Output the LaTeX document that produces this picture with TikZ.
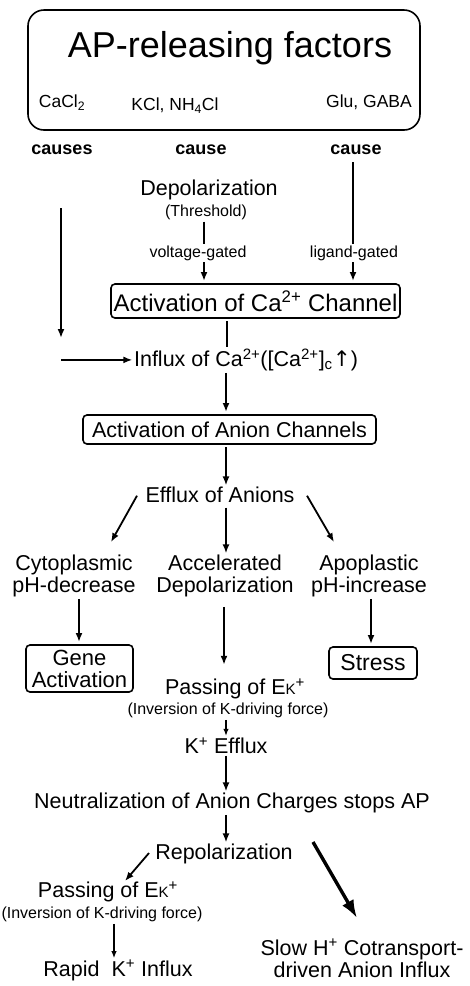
\documentclass[tikz,border=0pt]{standalone}
\usepackage{fontspec}
\setmainfont{Liberation Sans}
\newfontfamily\symfont{DejaVu Sans}
\usetikzlibrary{arrows.meta}

\begin{document}
\begin{tikzpicture}[x=1pt, y=-1pt]
	\tikzstyle{every node}=[inner sep=1.5pt, align=center, anchor=base, font=\fontsize{21.5}{22}\selectfont]
	\tikzstyle{small}=[font=\fontsize{16}{16}\selectfont]
	\tikzstyle{salt}=[font=\fontsize{17.5}{17.5}\selectfont]
	\tikzstyle{verb}=[font=\bfseries\fontsize{18}{18}\selectfont]
	\tikzstyle{box}=[draw, line width=1.6pt, rounded corners=4pt, anchor=center, outer sep=3pt, inner sep=2pt]
	\tikzstyle{arr}=[line width=1.8pt, -{Latex[length=9pt,width=7pt]}]
	\tikzstyle{tarr}=[line width=1.2pt, -{Latex[length=7pt,width=5.5pt]}]
	\tikzstyle{barr}=[line width=3.4pt, -{Latex[length=18pt,width=13pt]}]
	\tikzstyle{ln}=[line width=1.8pt]
	\useasboundingbox (0,0) rectangle (469,986);
	% factors
	\node[draw, line width=1.6pt, rounded corners=16pt, anchor=center, minimum width=392pt, minimum height=120pt] (F) at (224,70) {};
	\node[font=\fontsize{36}{36}\selectfont] (T) at (230,57) {AP-releasing factors};
	\node[salt] (CaCl) at (62,107.5) {CaCl\textsubscript{2}};
	\node[salt] (KCl) at (175,110.5) {KCl, NH\textsubscript{4}Cl};
	\node[salt] (Glu) at (369,107.5) {Glu, GABA};
	\node[verb] (cs) at (62,154.5) {causes};
	\node[verb] (cM) at (201,154.5) {cause};
	\node[verb] (cR) at (356,154.5) {cause};
	% calcium
	\node (Dep) at (209,195.7) {Depolarization};
	\node[small] (Thr) at (206,216.5) {(Threshold)};
	\node[small] (vg) at (198,257) {voltage-gated};
	\node[small] (lg) at (354,257) {ligand-gated};
	\node[box, font=\fontsize{24}{24}\selectfont, minimum width=289pt, minimum height=34pt] (CaCh) at (255.5,301) {Activation of Ca\textsuperscript{2+} Channel};
	\node (Infl) at (246,366.7) {Influx of Ca\textsuperscript{2+}([Ca\textsuperscript{2+}]\textsubscript{c}{\symfont ↑})};
	\coordinate (ca1) at (61,208);
	\coordinate (ca2) at (61,338);
	% anions
	\node[box, minimum width=293pt, minimum height=29pt] (AnCh) at (229.5,429.5) {Activation of Anion Channels};
	\node (Eff) at (220,502.7) {Efflux of Anions};
	\node[anchor=center] (Cyto) at (74,576.1) {Cytoplasmic\\pH-decrease};
	\node[anchor=center] (Acc) at (225,576.1) {Accelerated\\Depolarization};
	\node[anchor=center] (Apo) at (369,576.1) {Apoplastic\\pH-increase};
	\node[box, font=\fontsize{22}{22}\selectfont, minimum width=107pt, minimum height=47pt, inner sep=1pt] (Gene) at (79.5,668.5) {Gene\\Activation};
	\node[box, font=\fontsize{23}{23}\selectfont, minimum width=88pt, minimum height=32pt] (Stress) at (373,663) {Stress};
	% potassium
	\node (Pass1) at (235,694.7) {Passing of E{\fontsize{15}{15}\selectfont K}\textsuperscript{+}};
	\node[small] (Inv1) at (228,714.8) {(Inversion of K-driving force)};
	\node (KEff) at (226,753.7) {K\textsuperscript{+} Efflux};
	\node (Neut) at (232,808.7) {Neutralization of Anion Charges stops AP};
	\node (Repol) at (224,859.7) {Repolarization};
	\node (Pass2) at (108,897.7) {Passing of E{\fontsize{15}{15}\selectfont K}\textsuperscript{+}};
	\node[small] (Inv2) at (102,918.8) {(Inversion of K-driving force)};
	\node (Rapid) at (118,976) {Rapid\ \ K\textsuperscript{+} Influx};
	\node[anchor=center] (Slow) at (362,958) {Slow H\textsuperscript{+} Cotransport-\\driven Anion Influx};
	% connectors
	\draw[ln, shorten <=6pt] (cR.south -| 353,0) -- (lg.north -| 353,0);
	\draw[arr] (lg.south -| 353,0) -- (CaCh.north -| 353,0);
	\draw[ln] (Thr.south -| 204,0) -- (vg.north -| 204,0);
	\draw[arr] (vg.south -| 204,0) -- (CaCh.north -| 204,0);
	\draw[ln] (CaCh.south -| 227,0) -- (Infl.north -| 227,0);
	\draw[arr] (ca1) -- (ca2);
	\draw[arr] (Infl.west -| ca1) -- (Infl.west);
	\draw[arr] (Infl.south -| 226,0) -- (AnCh.north -| 226,0);
	\draw[arr] (AnCh.south -| 226,0) -- (Eff.north -| 226,0);
	\draw[arr] ([shift={(-83,-7)}]Eff.base) -- ([shift={(37,-34)}]Cyto.center);
	\draw[arr, shorten <=3pt] (Eff.south -| 226,0) -- (Acc.north -| 226,0);
	\draw[arr] ([shift={(87,-7)}]Eff.base) -- ([shift={(-35,-34)}]Apo.center);
	\draw[arr] (Cyto.south -| 79,0) -- (Gene.north -| 79,0);
	\draw[arr, shorten <=8pt, shorten >=12pt] (Acc.south -| 224,0) -- (Pass1.north -| 224,0);
	\draw[arr] (Apo.south -| 371,0) -- (Stress.north -| 371,0);
	\draw[tarr] (Inv1.south -| 226,0) -- (KEff.north -| 226,0);
	\draw[arr] (KEff.south -| 226,0) -- (Neut.north -| 226,0);
	\draw[arr] (Neut.south -| 226,0) -- (Repol.north -| 226,0);
	\draw[arr] ([shift={(-75,-6.7)}]Repol.base) -- ([shift={(17,-16.7)}]Pass2.base);
	\draw[barr] ([shift={(89,-17.7)}]Repol.base) -- ([shift={(-5,-40)}]Slow.center);
	\draw[tarr] (Inv2.south -| 114,0) -- (Rapid.north -| 114,0);
\end{tikzpicture}
\end{document}
